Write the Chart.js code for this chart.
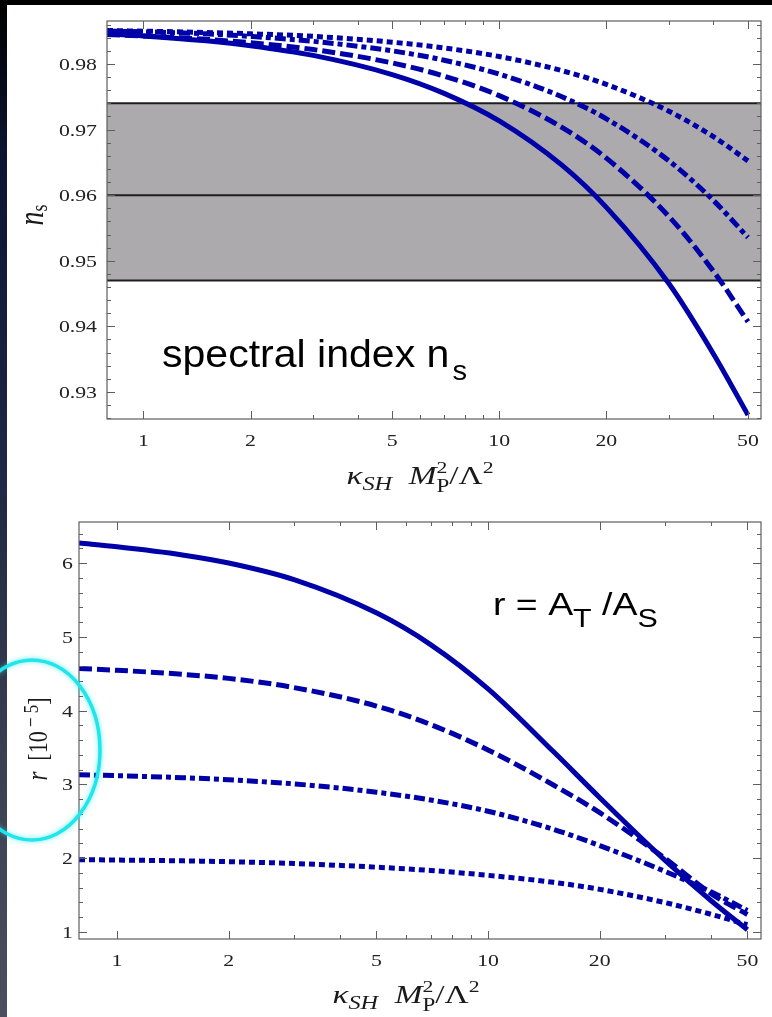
<!DOCTYPE html>
<html>
<head>
<meta charset="utf-8">
<title>n_s and r versus kappa_SH</title>
<script src="https://cdn.jsdelivr.net/npm/chart.js@4.4.1/dist/chart.umd.min.js"></script>
<style>
  html, body { margin: 0; padding: 0; background: #000; }
  #stage { position: relative; width: 772px; height: 1017px; overflow: hidden; background: #000; }
  #strip { position: absolute; left: 0; top: 0; width: 8px; height: 1017px;
           background: linear-gradient(#000 0%, #0c1430 15%, #1d2742 45%, #3a3f52 75%, #4b4f5f 100%); }
  #panel { position: absolute; left: 7px; top: 5px; width: 765px; height: 1012px; background: #fff; }
  canvas { position: absolute; left: 0; }
  #nsChart { top: 0; }
  #rChart { top: 500px; }
</style>
</head>
<body>
<div id="stage">
  <div id="strip"></div>
  <div id="panel"></div>
  <canvas id="nsChart" width="772" height="500"></canvas>
  <canvas id="rChart" width="772" height="517"></canvas>
</div>
<script>
// kappa_SH M_P^2 / Lambda^2, shared by both panels
const kappa = [0.79, 1, 1.5, 2, 3, 5, 7, 10, 15, 20, 30, 40, 50];
const kappaRange = [0.79, 54.4];

// spectral index n_s
const nsSolid   = [0.98459, 0.98428, 0.98353, 0.98279, 0.98131, 0.97839, 0.97552, 0.97132, 0.96457, 0.95814, 0.94650, 0.93580, 0.92650];
const nsDashed  = [0.98449, 0.98427, 0.98375, 0.98323, 0.98220, 0.98016, 0.97815, 0.97517, 0.97033, 0.96564, 0.95672, 0.94840, 0.94070];
const nsDashDot = [0.98500, 0.98490, 0.98460, 0.98420, 0.98345, 0.98200, 0.98057, 0.97845, 0.97500, 0.97164, 0.96522, 0.95919, 0.95355];
const nsDotted  = [0.98510, 0.98500, 0.98480, 0.98460, 0.98421, 0.98332, 0.98244, 0.98114, 0.97898, 0.97688, 0.97279, 0.96891, 0.96523];
const nsBand = [0.947, 0.960, 0.974];   // lower edge, centre, upper edge
const nsRange = [0.92588, 0.98655];
const nsTicks = [0.93, 0.94, 0.95, 0.96, 0.97, 0.98];

// tensor-to-scalar ratio r in units of 1e-5
const rSolid   = [6.27, 6.22, 6.11, 6.00, 5.775, 5.325, 4.895, 4.295, 3.445, 2.82, 1.97, 1.42, 1.03];
const rDashed  = [4.57, 4.547, 4.492, 4.437, 4.312, 4.062, 3.812, 3.467, 2.992, 2.617, 1.997, 1.517, 1.237];
const rDashDot = [3.13, 3.118, 3.091, 3.063, 3.007, 2.895, 2.789, 2.636, 2.391, 2.171, 1.821, 1.541, 1.291];
const rDotted  = [1.98, 1.975, 1.964, 1.953, 1.928, 1.878, 1.834, 1.768, 1.673, 1.578, 1.398, 1.238, 1.098];
const rRange = [0.905, 6.556];
const rTicks = [1, 2, 3, 4, 5, 6];

const xTicks = [1, 2, 5, 10, 20, 50];
const xMinorTicks = [3, 4, 6, 7, 8, 9, 30, 40];

const nsMinor = [];
for (let k = 463; k <= 493; k++) if (k % 5) nsMinor.push(k / 500);
const rMinor = [];
for (let k = 5; k <= 32; k++) if (k % 5) rMinor.push(k / 5);

const BLUE = '#0000a8';
const SX = 1.28;   // the plot picture is stretched sideways
const SERIF = '"Liberation Serif", "Times New Roman", serif';
const SANS = '"Liberation Sans", Arial, sans-serif';
const TICK_FONT = '17px ' + SERIF;

function xTitle() {
  return [
    { t: 'κ', f: 'italic 26px ' + SERIF },
    { t: 'SH', f: 'italic 19px ' + SERIF, dy: 6 },
    { t: '  M', f: 'italic 26px ' + SERIF },
    { t: 'P', f: '18px ' + SERIF, dy: 8 },
    { t: '2', f: '17px ' + SERIF, dy: -11, back: true },
    { t: '/', f: '26px ' + SERIF },
    { t: 'Λ', f: '26px ' + SERIF },
    { t: '2', f: '17px ' + SERIF, dy: -11 }
  ];
}

const panels = {
  nsChart: {
    yMajor: nsTicks, yMinor: nsMinor, fmt: v => v.toFixed(2), yLabelRight: 97,
    band: nsBand, xLabelY: 446, xTitleY: 484,
    yTitle: [
      { t: 'n', f: 'italic 28px ' + SERIF },
      { t: 's', f: '18px ' + SERIF, dy: 3 }
    ],
    yTitlePos: [43, 215],
    note: { x: 162, y: 367, sx: 1.08, segs: [
      { t: 'spectral index n', f: '38px ' + SANS },
      { t: ' ', f: '10px ' + SANS },
      { t: 's', f: '27px ' + SANS, dy: 13 }
    ] }
  },
  rChart: {
    yMajor: rTicks, yMinor: rMinor, fmt: v => String(v), yLabelRight: 73,
    xLabelY: 466, xTitleY: 503,
    yTitle: [
      { t: 'r', f: 'italic 23px ' + SERIF },
      { t: '  [10', f: '22px ' + SERIF },
      { t: ' − 5', f: '17px ' + SERIF, dy: -7 },
      { t: ']', f: '22px ' + SERIF }
    ],
    yTitlePos: [47, 239],
    note: { x: 493, y: 115, sx: 1.17, segs: [
      { t: 'r = A', f: '32px ' + SANS },
      { t: 'T', f: '26px ' + SANS, dy: 12 },
      { t: ' /A', f: '32px ' + SANS },
      { t: 'S', f: '26px ' + SANS, dy: 12 }
    ] },
    ring: { x: 32, y: 250, rx: 68, ry: 90 }
  }
};

// draws a row of text pieces, each stretched sideways by sx
function drawRun(ctx, x, y, segs, sx, align) {
  const starts = [];
  let cur = 0, prevStart = 0, end = 0;
  segs.forEach(s => {
    ctx.font = s.f;
    const w = ctx.measureText(s.t).width * sx;
    if (s.back) cur = prevStart;
    starts.push(cur);
    prevStart = cur;
    cur = Math.max(cur + w, s.back ? end : 0);
    end = Math.max(end, cur);
  });
  let x0 = x;
  if (align === 'center') x0 = x - end / 2;
  else if (align === 'right') x0 = x - end;
  segs.forEach((s, i) => {
    ctx.save();
    ctx.font = s.f;
    ctx.textAlign = 'left';
    ctx.translate(x0 + starts[i], y + (s.dy || 0));
    ctx.scale(sx, 1);
    ctx.fillText(s.t, 0, 0);
    ctx.restore();
  });
}

const mmaFrame = {
  id: 'mmaFrame',
  beforeDatasetsDraw(chart) {
    const p = panels[chart.canvas.id];
    if (!p.band) return;
    const { ctx, chartArea: a } = chart;
    const y = chart.scales.y;
    const lo = y.getPixelForValue(p.band[0]);
    const hi = y.getPixelForValue(p.band[2]);
    ctx.save();
    ctx.fillStyle = '#acaaad';
    ctx.fillRect(a.left, hi, a.right - a.left, lo - hi);
    ctx.strokeStyle = '#1e1e1e';
    ctx.lineWidth = 2;
    p.band.forEach(v => {
      const py = y.getPixelForValue(v);
      ctx.beginPath();
      ctx.moveTo(a.left, py);
      ctx.lineTo(a.right, py);
      ctx.stroke();
    });
    ctx.restore();
  },
  afterDraw(chart) {
    const p = panels[chart.canvas.id];
    const { ctx, chartArea: a } = chart;
    const x = chart.scales.x, y = chart.scales.y;
    ctx.save();

    // frame with inward ticks on all four sides
    ctx.strokeStyle = '#5e5e5e';
    ctx.lineWidth = 1.2;
    ctx.strokeRect(a.left, a.top, a.right - a.left, a.bottom - a.top);
    ctx.lineWidth = 1;
    ctx.beginPath();
    const xt = (v, len) => {
      const px = Math.round(x.getPixelForValue(v)) + 0.5;
      ctx.moveTo(px, a.bottom); ctx.lineTo(px, a.bottom - len);
      ctx.moveTo(px, a.top); ctx.lineTo(px, a.top + len);
    };
    const yt = (v, len) => {
      const py = Math.round(y.getPixelForValue(v)) + 0.5;
      ctx.moveTo(a.left, py); ctx.lineTo(a.left + len, py);
      ctx.moveTo(a.right, py); ctx.lineTo(a.right - len, py);
    };
    xTicks.forEach(v => xt(v, 8));
    xMinorTicks.forEach(v => xt(v, 4));
    p.yMajor.forEach(v => yt(v, 8));
    p.yMinor.forEach(v => yt(v, 4));
    ctx.stroke();

    // tick labels
    ctx.fillStyle = '#222';
    ctx.textBaseline = 'alphabetic';
    xTicks.forEach(v => {
      drawRun(ctx, x.getPixelForValue(v), p.xLabelY, [{ t: String(v), f: TICK_FONT }], SX, 'center');
    });
    p.yMajor.forEach(v => {
      drawRun(ctx, p.yLabelRight, y.getPixelForValue(v) + 6, [{ t: p.fmt(v), f: TICK_FONT }], SX, 'right');
    });

    // axis titles
    ctx.fillStyle = '#1a1a1a';
    drawRun(ctx, (a.left + a.right) / 2 - 14, p.xTitleY, xTitle(), SX, 'center');
    ctx.save();
    ctx.translate(p.yTitlePos[0], p.yTitlePos[1]);
    ctx.scale(SX, 1);
    ctx.rotate(-Math.PI / 2);
    drawRun(ctx, 0, 0, p.yTitle, 1, 'center');
    ctx.restore();

    // slide annotation
    ctx.fillStyle = '#000';
    drawRun(ctx, p.note.x, p.note.y, p.note.segs, p.note.sx, 'left');

    // cyan highlight ring around the r axis label
    if (p.ring) {
      ctx.strokeStyle = '#1fe6ea';
      ctx.lineWidth = 3.5;
      ctx.shadowColor = 'rgba(40,230,235,0.7)';
      ctx.shadowBlur = 5;
      ctx.beginPath();
      ctx.ellipse(p.ring.x, p.ring.y, p.ring.rx, p.ring.ry, 0, 0, Math.PI * 2);
      ctx.stroke();
    }
    ctx.restore();
  }
};

function curve(values, dash) {
  return {
    data: kappa.map((k, i) => ({ x: k, y: values[i] })),
    borderColor: BLUE,
    borderWidth: 5,
    borderDash: dash,
    borderCapStyle: 'butt',
    borderJoinStyle: 'round',
    pointRadius: 0,
    cubicInterpolationMode: 'monotone',
    fill: false
  };
}

const DASHED = [13, 5];
const DASH_DOT = [11, 4, 5, 4];
const DOTTED = [6, 4];

function makeChart(id, series, yRange, padding) {
  return new Chart(document.getElementById(id), {
    type: 'line',
    data: {
      datasets: [
        curve(series[3], DOTTED),
        curve(series[2], DASH_DOT),
        curve(series[1], DASHED),
        curve(series[0], [])
      ]
    },
    options: {
      responsive: false,
      animation: false,
      devicePixelRatio: 1,
      layout: { padding: padding },
      plugins: { legend: { display: false }, tooltip: { enabled: false } },
      scales: {
        x: { type: 'logarithmic', min: kappaRange[0], max: kappaRange[1], display: false },
        y: { type: 'linear', min: yRange[0], max: yRange[1], display: false }
      }
    },
    plugins: [mmaFrame]
  });
}

makeChart('nsChart', [nsSolid, nsDashed, nsDashDot, nsDotted], nsRange,
  { left: 107, top: 21, right: 11, bottom: 81 });
makeChart('rChart', [rSolid, rDashed, rDashDot, rDotted], rRange,
  { left: 79, top: 22, right: 11, bottom: 78 });
</script>
</body>
</html>
